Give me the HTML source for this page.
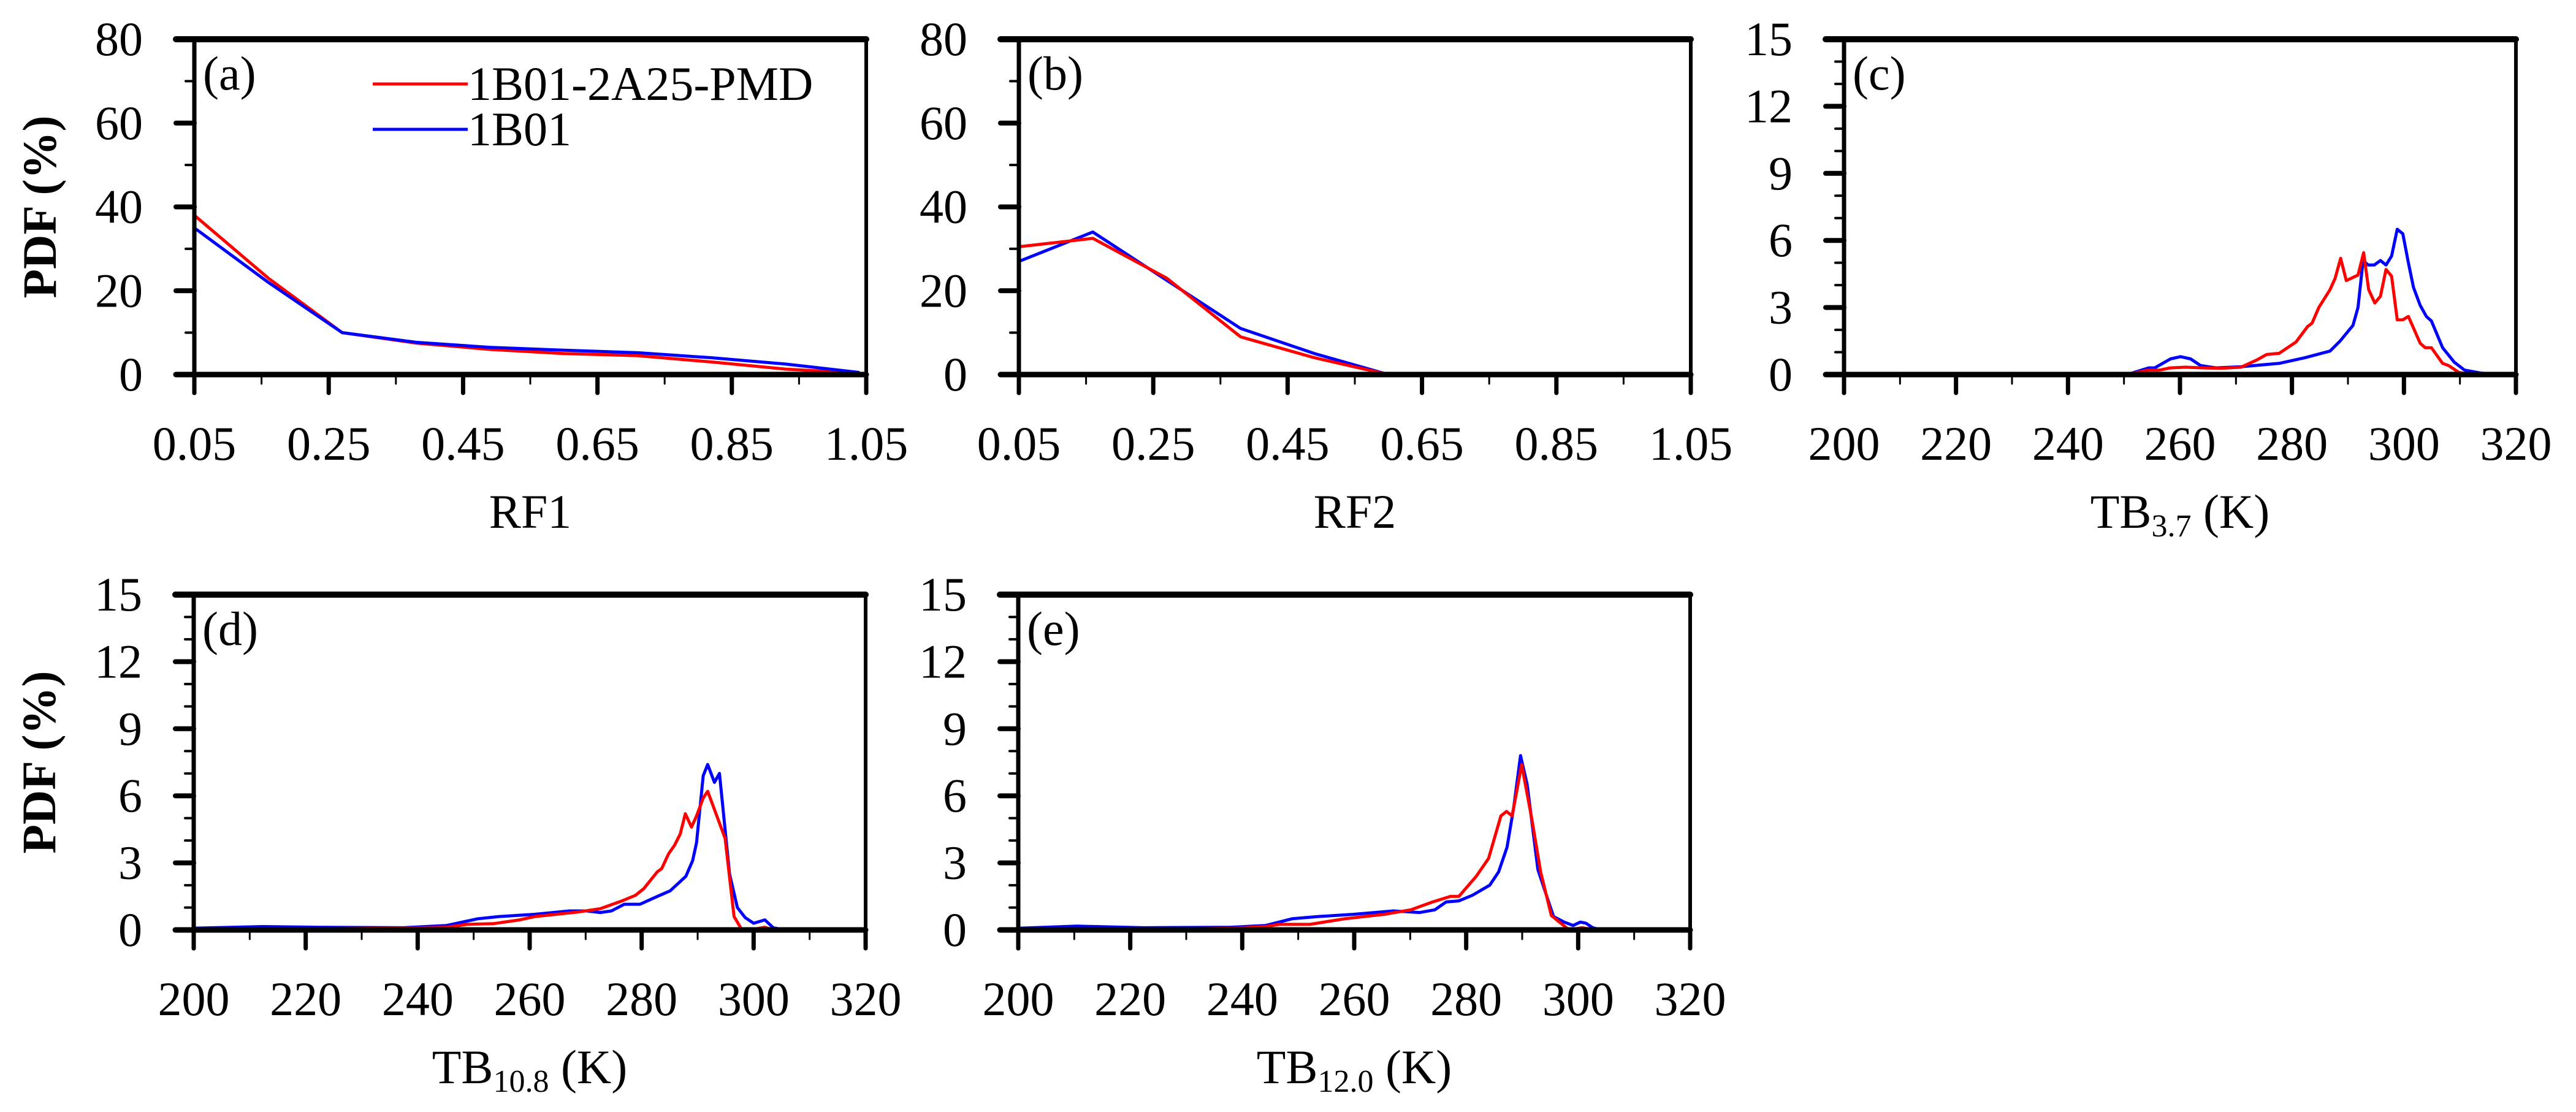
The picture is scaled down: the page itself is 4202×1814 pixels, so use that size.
<!DOCTYPE html>
<html><head><meta charset="utf-8">
<style>
html,body{margin:0;padding:0;background:#fff;}
svg{display:block;font-family:"Liberation Serif",serif;}
</style></head>
<body>
<svg id="fig" width="4202" height="1814" viewBox="0 0 4202 1814" xmlns="http://www.w3.org/2000/svg"></svg>
<script>
// ---- data ----
const rfX = [0.05,0.16,0.27,0.38,0.49,0.6,0.71,0.82,0.93,1.04];
const rf1Red = [38,23,10,7.5,6,5,4.5,3,1.3,0.3];
const rf1Blue = [35,22,10,7.7,6.5,5.8,5.2,4,2.5,0.5];
const rf2X = [0.05,0.16,0.27,0.38,0.49,0.6,0.71,0.82,0.93,1.04];
const rf2Red = [30.5,32.5,23,9,4,0,0,0,0,0];
const rf2Blue = [27,34,22.5,11,5,0,0,0,0,0];

const cBlueX = [250.6,254.4,255.5,258.3,260.1,261.9,263.7,266.4,270.9,277.7,282.3,286.8,288.6,290.9,291.8,292.7,293.6,294.7,295.8,296.8,297.8,298.8,299.8,300.8,301.7,302.9,304.0,304.9,306.9,309.0,310.8,313.9,316.2,318];
const cBlueY = [0,0.3,0.3,0.7,0.8,0.7,0.4,0.3,0.35,0.5,0.75,1.05,1.5,2.2,3.0,5.1,4.9,4.9,5.1,4.9,5.3,6.5,6.3,5.0,3.9,3.1,2.6,2.4,1.2,0.55,0.2,0.06,0.03,0];
const cRedX = [250.6,254.4,256.4,258.3,261,264.2,267.3,270.9,273.7,275.5,277.7,280.7,282.8,283.6,284.8,286.8,287.7,288.7,289.7,291.8,292.8,293.7,294.8,295.8,296.8,297.8,298.8,299.8,300.8,302.9,303.8,304.9,306.9,308,309.8,311.6,316];
const cRedY = [0,0.2,0.2,0.3,0.33,0.3,0.28,0.33,0.65,0.9,0.95,1.45,2.15,2.3,3.0,3.8,4.3,5.2,4.2,4.45,5.45,3.8,3.2,3.5,4.7,4.4,2.45,2.45,2.6,1.4,1.2,1.2,0.5,0.4,0.1,0,0];

const dBlueX = [200,212.3,221.7,237.4,245.2,250.7,254.6,260.9,267.1,270.2,272.6,274.6,276.9,279.7,282.8,285.1,287.9,289.1,289.8,291.0,291.8,293.0,293.9,295.7,297.1,298.5,300.0,302.0,303.5,305.5];
const dBlueY = [0.08,0.15,0.12,0.1,0.2,0.5,0.6,0.7,0.85,0.85,0.78,0.85,1.15,1.15,1.5,1.75,2.4,3.1,3.9,6.9,7.4,6.6,7.0,2.5,1.0,0.55,0.3,0.45,0.1,0];
const dRedX = [200,214,237.4,245.2,248.8,253.5,258.2,261,268.6,272.6,276.5,278.9,280.4,282.8,283.6,284.8,285.9,286.9,287.8,288.9,289.8,291.0,291.8,294.9,296.5,297.8,300,302,303.5];
const dRedY = [0,0.03,0.08,0.12,0.25,0.28,0.45,0.6,0.8,0.95,1.3,1.55,1.85,2.6,2.75,3.4,3.8,4.3,5.2,4.6,5.1,5.9,6.2,4.1,0.6,0.05,0.03,0.12,0];

const eBlueX = [200.4,210.5,222.3,238,244.2,248.9,253.6,259.9,267,271.7,274.4,276.4,278.7,281.1,284.2,285.8,287.3,288.5,289.7,290.9,292.8,295.6,297.5,299.1,300.4,301.4,302.6,304.2];
const eBlueY = [0.08,0.17,0.1,0.12,0.2,0.5,0.6,0.7,0.85,0.78,0.9,1.25,1.3,1.55,2.0,2.6,3.7,5.5,7.8,6.5,2.7,0.6,0.35,0.2,0.35,0.3,0.1,0];
const eRedX = [200.4,222.3,238,244.2,246.6,252.1,258.3,265.4,270.1,274,277.2,278.7,281.8,284,286.2,287.2,288.2,289.1,289.9,291.7,293.3,295.2,296.4,298.4,300.7,303];
const eRedY = [0,0.03,0.07,0.15,0.25,0.25,0.5,0.7,0.9,1.25,1.5,1.5,2.4,3.2,5.1,5.3,5.1,6.3,7.4,5.0,2.6,0.65,0.4,0,0.1,0];

const rfTicks = ["0.05","0.25","0.45","0.65","0.85","1.05"];
const tbTicks = ["200","220","240","260","280","300","320"];
const pdfTicksA = ["0","20","40","60","80"];
const pdfTicksC = ["0","3","6","9","12","15"];

// ---- drawing ----
const NS = "http://www.w3.org/2000/svg";
const svg = document.getElementById('fig');
function mk(tag, attrs, parent){
  const e = document.createElementNS(NS, tag);
  for (const k in attrs) e.setAttribute(k, attrs[k]);
  (parent||svg).appendChild(e);
  return e;
}

function panel(o){
  const g = mk('g', {});
  
  
  const L=o.left, R=o.left+1096, T=o.top, B=o.top+547;
  const sx = v => L + (v - o.xmin)/(o.xmax-o.xmin)*(R-L);
  const sy = v => B - (v - o.ymin)/(o.ymax-o.ymin)*(B-T);
  // series
  o.series.forEach(s=>{
    const pts = s.x.map((xv,i)=> sx(xv).toFixed(1)+','+sy(s.y[i]).toFixed(1)).join(' ');
    const pl = mk('polyline', {points:pts, fill:'none', stroke:s.color, 'stroke-width':5, 'stroke-linejoin':'round'}, g);
    
    
  });
  // frame
  const fr = mk('g', {stroke:'#000', 'stroke-linecap':'round'}, g);
  
  
  mk('line',{x1:L-30,y1:T,x2:R,y2:T,'stroke-width':10},fr);
  mk('line',{x1:L-30,y1:B,x2:R,y2:B,'stroke-width':9},fr);
  mk('line',{x1:L,y1:T,x2:L,y2:B+30,'stroke-width':7},fr);
  mk('line',{x1:R,y1:T,x2:R,y2:B+30,'stroke-width':6},fr);
  // y ticks
  const ny = o.yLabels.length-1;
  for (let i=0;i<=ny*o.yMinor;i++){
    const v = o.ymin + i*(o.ymax-o.ymin)/(ny*o.yMinor);
    const y = sy(v);
    const major = i % o.yMinor === 0;
    mk('line',{x1:major?L-30:L-14,y1:y,x2:L,y2:y,'stroke-width':major?8:4},fr);
  }
  o.yLabels.forEach((t,i)=>{
    const v = o.ymin + i*(o.ymax-o.ymin)/ny;
    const tx = mk('text',{x:L-84,y:sy(v)+26,'text-anchor':'end','font-size':78},g);
    tx.textContent = t;
    
    
  });
  // x ticks
  const nx = o.xLabels.length-1;
  for (let i=0;i<=nx*2;i++){
    const x = L + i*(R-L)/(nx*2);
    const major = i%2===0;
    mk('line',{x1:x,y1:B,x2:x,y2:major?B+30:B+15,'stroke-width':major?7:3},fr);
  }
  o.xLabels.forEach((t,i)=>{
    const x = L + i*(R-L)/nx;
    const tx = mk('text',{x:x,y:B+139,'text-anchor':'middle','font-size':78},g);
    tx.textContent = t;
    
    
  });
  // title
  const tt = mk('text',{x:(L+R)/2,y:B+250,'text-anchor':'middle','font-size':78},g);
  
  
  if (o.sub){
    const a = mk('tspan',{},tt); a.textContent='TB';
    const b = mk('tspan',{'font-size':52,dy:14},tt); b.textContent=o.sub;
    const c = mk('tspan',{dy:-14},tt); c.textContent=' (K)';
  } else tt.textContent = o.xtitle;
  // panel letter
  const pl = mk('text',{x:L+14,y:T+82,'font-size':78},g);
  pl.textContent = '('+o.id+')';
  
  
  if (o.ylabel){
    const yl = mk('text',{x:0,y:0,'text-anchor':'middle','font-size':78,'font-weight':'bold',transform:`translate(${L-226},${(T+B)/2}) rotate(-90)`},g);
    yl.textContent = 'PDF (%)';
    
    
  }
}

panel({id:'a',left:317,top:64,xmin:0.05,xmax:1.05,ymin:0,ymax:80,yMinor:2,xLabels:rfTicks,yLabels:pdfTicksA,xtitle:'RF1',ylabel:true,
  series:[{name:'1b01-2a25-pmd',x:rfX,y:rf1Red,color:'#ff0000'},{name:'1b01',x:rfX,y:rf1Blue,color:'#0000ff'}]});
panel({id:'b',left:1662,top:64,xmin:0.05,xmax:1.05,ymin:0,ymax:80,yMinor:2,xLabels:rfTicks,yLabels:pdfTicksA,xtitle:'RF2',
  series:[{name:'1b01',x:rf2X,y:rf2Blue,color:'#0000ff'},{name:'1b01-2a25-pmd',x:rf2X,y:rf2Red,color:'#ff0000'}]});
panel({id:'c',left:3008,top:64,xmin:200,xmax:320,ymin:0,ymax:15,yMinor:3,xLabels:tbTicks,yLabels:pdfTicksC,sub:'3.7',
  series:[{name:'1b01',x:cBlueX,y:cBlueY,color:'#0000ff'},{name:'1b01-2a25-pmd',x:cRedX,y:cRedY,color:'#ff0000'}]});
panel({id:'d',left:316,top:970,xmin:200,xmax:320,ymin:0,ymax:15,yMinor:3,xLabels:tbTicks,yLabels:pdfTicksC,sub:'10.8',ylabel:true,
  series:[{name:'1b01',x:dBlueX,y:dBlueY,color:'#0000ff'},{name:'1b01-2a25-pmd',x:dRedX,y:dRedY,color:'#ff0000'}]});
panel({id:'e',left:1661,top:970,xmin:200,xmax:320,ymin:0,ymax:15,yMinor:3,xLabels:tbTicks,yLabels:pdfTicksC,sub:'12.0',
  series:[{name:'1b01',x:eBlueX,y:eBlueY,color:'#0000ff'},{name:'1b01-2a25-pmd',x:eRedX,y:eRedY,color:'#ff0000'}]});

// legend
const lg = mk('g',{});


const l1 = mk('line',{x1:608,y1:137,x2:763,y2:137,stroke:'#ff0000','stroke-width':5},lg);


const t1 = mk('text',{x:763,y:163,'font-size':78},lg); t1.textContent='1B01-2A25-PMD';


const l2 = mk('line',{x1:608,y1:211,x2:763,y2:211,stroke:'#0000ff','stroke-width':5},lg);


const t2 = mk('text',{x:763,y:237,'font-size':78},lg); t2.textContent='1B01';


</script>
</body></html>
